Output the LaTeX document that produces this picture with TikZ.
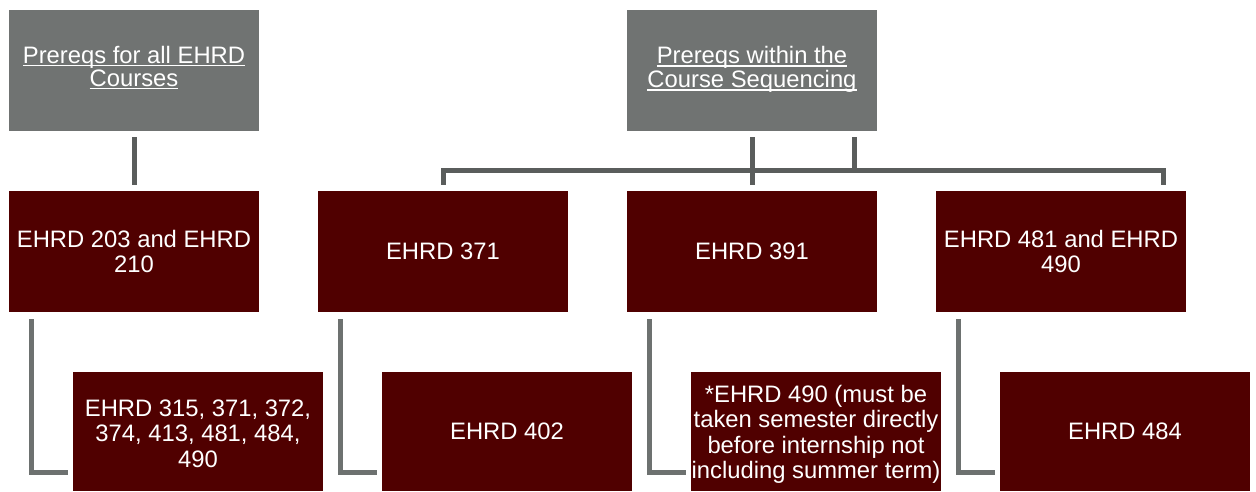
\documentclass[tikz,border=0pt]{standalone}
\usepackage{fontspec}
\setmainfont{Liberation Sans}
\usetikzlibrary{calc}
\definecolor{maroon}{HTML}{500000}
\definecolor{boxgray}{HTML}{707372}
\definecolor{topline}{HTML}{5A5D5C}
\definecolor{lline}{HTML}{6D7170}
\newcommand\myul[1]{\setbox0\hbox{#1}\rlap{\rule[-3pt]{\wd0}{1.6pt}}\box0}
\begin{document}
\begin{tikzpicture}[x=1pt,y=-1pt,
  base/.style={rectangle, minimum width=250pt, inner sep=0pt, text=white, align=center,
    font=\fontsize{23.8}{25.5}\selectfont},
  txt/.style={inner sep=0pt, text=white, align=center, font=\fontsize{23.8}{25.5}\selectfont},
  graybox/.style={base, fill=boxgray, minimum height=121pt},
  redbox/.style={base, fill=maroon, minimum height=121pt},
  lowbox/.style={base, fill=maroon, minimum height=119pt},
  tconn/.style={draw=topline, line width=5pt},
  lconn/.style={draw=lline, line width=5pt}]
\useasboundingbox (0,0) rectangle (1256,491);
% row 1
\node[graybox, label={[txt, yshift=3pt, font=\fontsize{23.8}{23}\selectfont]center:{\myul{Prereqs for all EHRD}\\\myul{Courses}}}] (g1) at (134,70.5) {};
\node[graybox, label={[txt, yshift=1pt, font=\fontsize{23.8}{24}\selectfont]center:{\myul{Prereqs within the}\\\myul{Course Sequencing}}}] (g2) at (752,70.5) {};
% row 2
\node[redbox] (r2a) at (134,251.5) {EHRD 203 and EHRD\\210};
\node[redbox] (r2b) at (443,251.5) {EHRD 371};
\node[redbox] (r2c) at (752,251.5) {EHRD 391};
\node[redbox] (r2d) at (1061,251.5) {EHRD 481 and EHRD\\490};
% row 3
\node[lowbox, label={[txt, yshift=-2pt]center:{EHRD 315, 371, 372,\\374, 413, 481, 484,\\490}}] (r3a) at (198,431.5) {};
\node[lowbox] (r3b) at (507,431.5) {EHRD 402};
\node[lowbox, label={[txt, yshift=-3pt]center:{*EHRD 490 (must be\\taken semester directly\\before internship not\\including summer term)}}] (r3c) at (816,431.5) {};
\node[lowbox] (r3d) at (1125,431.5) {EHRD 484};
% top connectors
\draw[tconn] ([yshift=-6pt]g1.south) -- ([yshift=6pt]r2a.north);
\coordinate (hmid) at ([yshift=-39pt]g2.south);
\draw[tconn] ([yshift=-6pt]g2.south) -- ([yshift=6pt]r2c.north);
\draw[tconn] ([xshift=102pt,yshift=-6pt]g2.south) -- ([xshift=102pt]hmid);
\draw[tconn] ([yshift=6pt]r2b.north) |- (hmid) -| ([xshift=102pt,yshift=6pt]r2d.north);
% lower L connectors
\draw[lconn] ([xshift=23pt,yshift=-7pt]r2a.south west) |- ([xshift=-5pt,yshift=19pt]r3a.south west);
\draw[lconn] ([xshift=23pt,yshift=-7pt]r2b.south west) |- ([xshift=-5pt,yshift=19pt]r3b.south west);
\draw[lconn] ([xshift=23pt,yshift=-7pt]r2c.south west) |- ([xshift=-5pt,yshift=19pt]r3c.south west);
\draw[lconn] ([xshift=23pt,yshift=-7pt]r2d.south west) |- ([xshift=-5pt,yshift=19pt]r3d.south west);
\end{tikzpicture}
\end{document}
